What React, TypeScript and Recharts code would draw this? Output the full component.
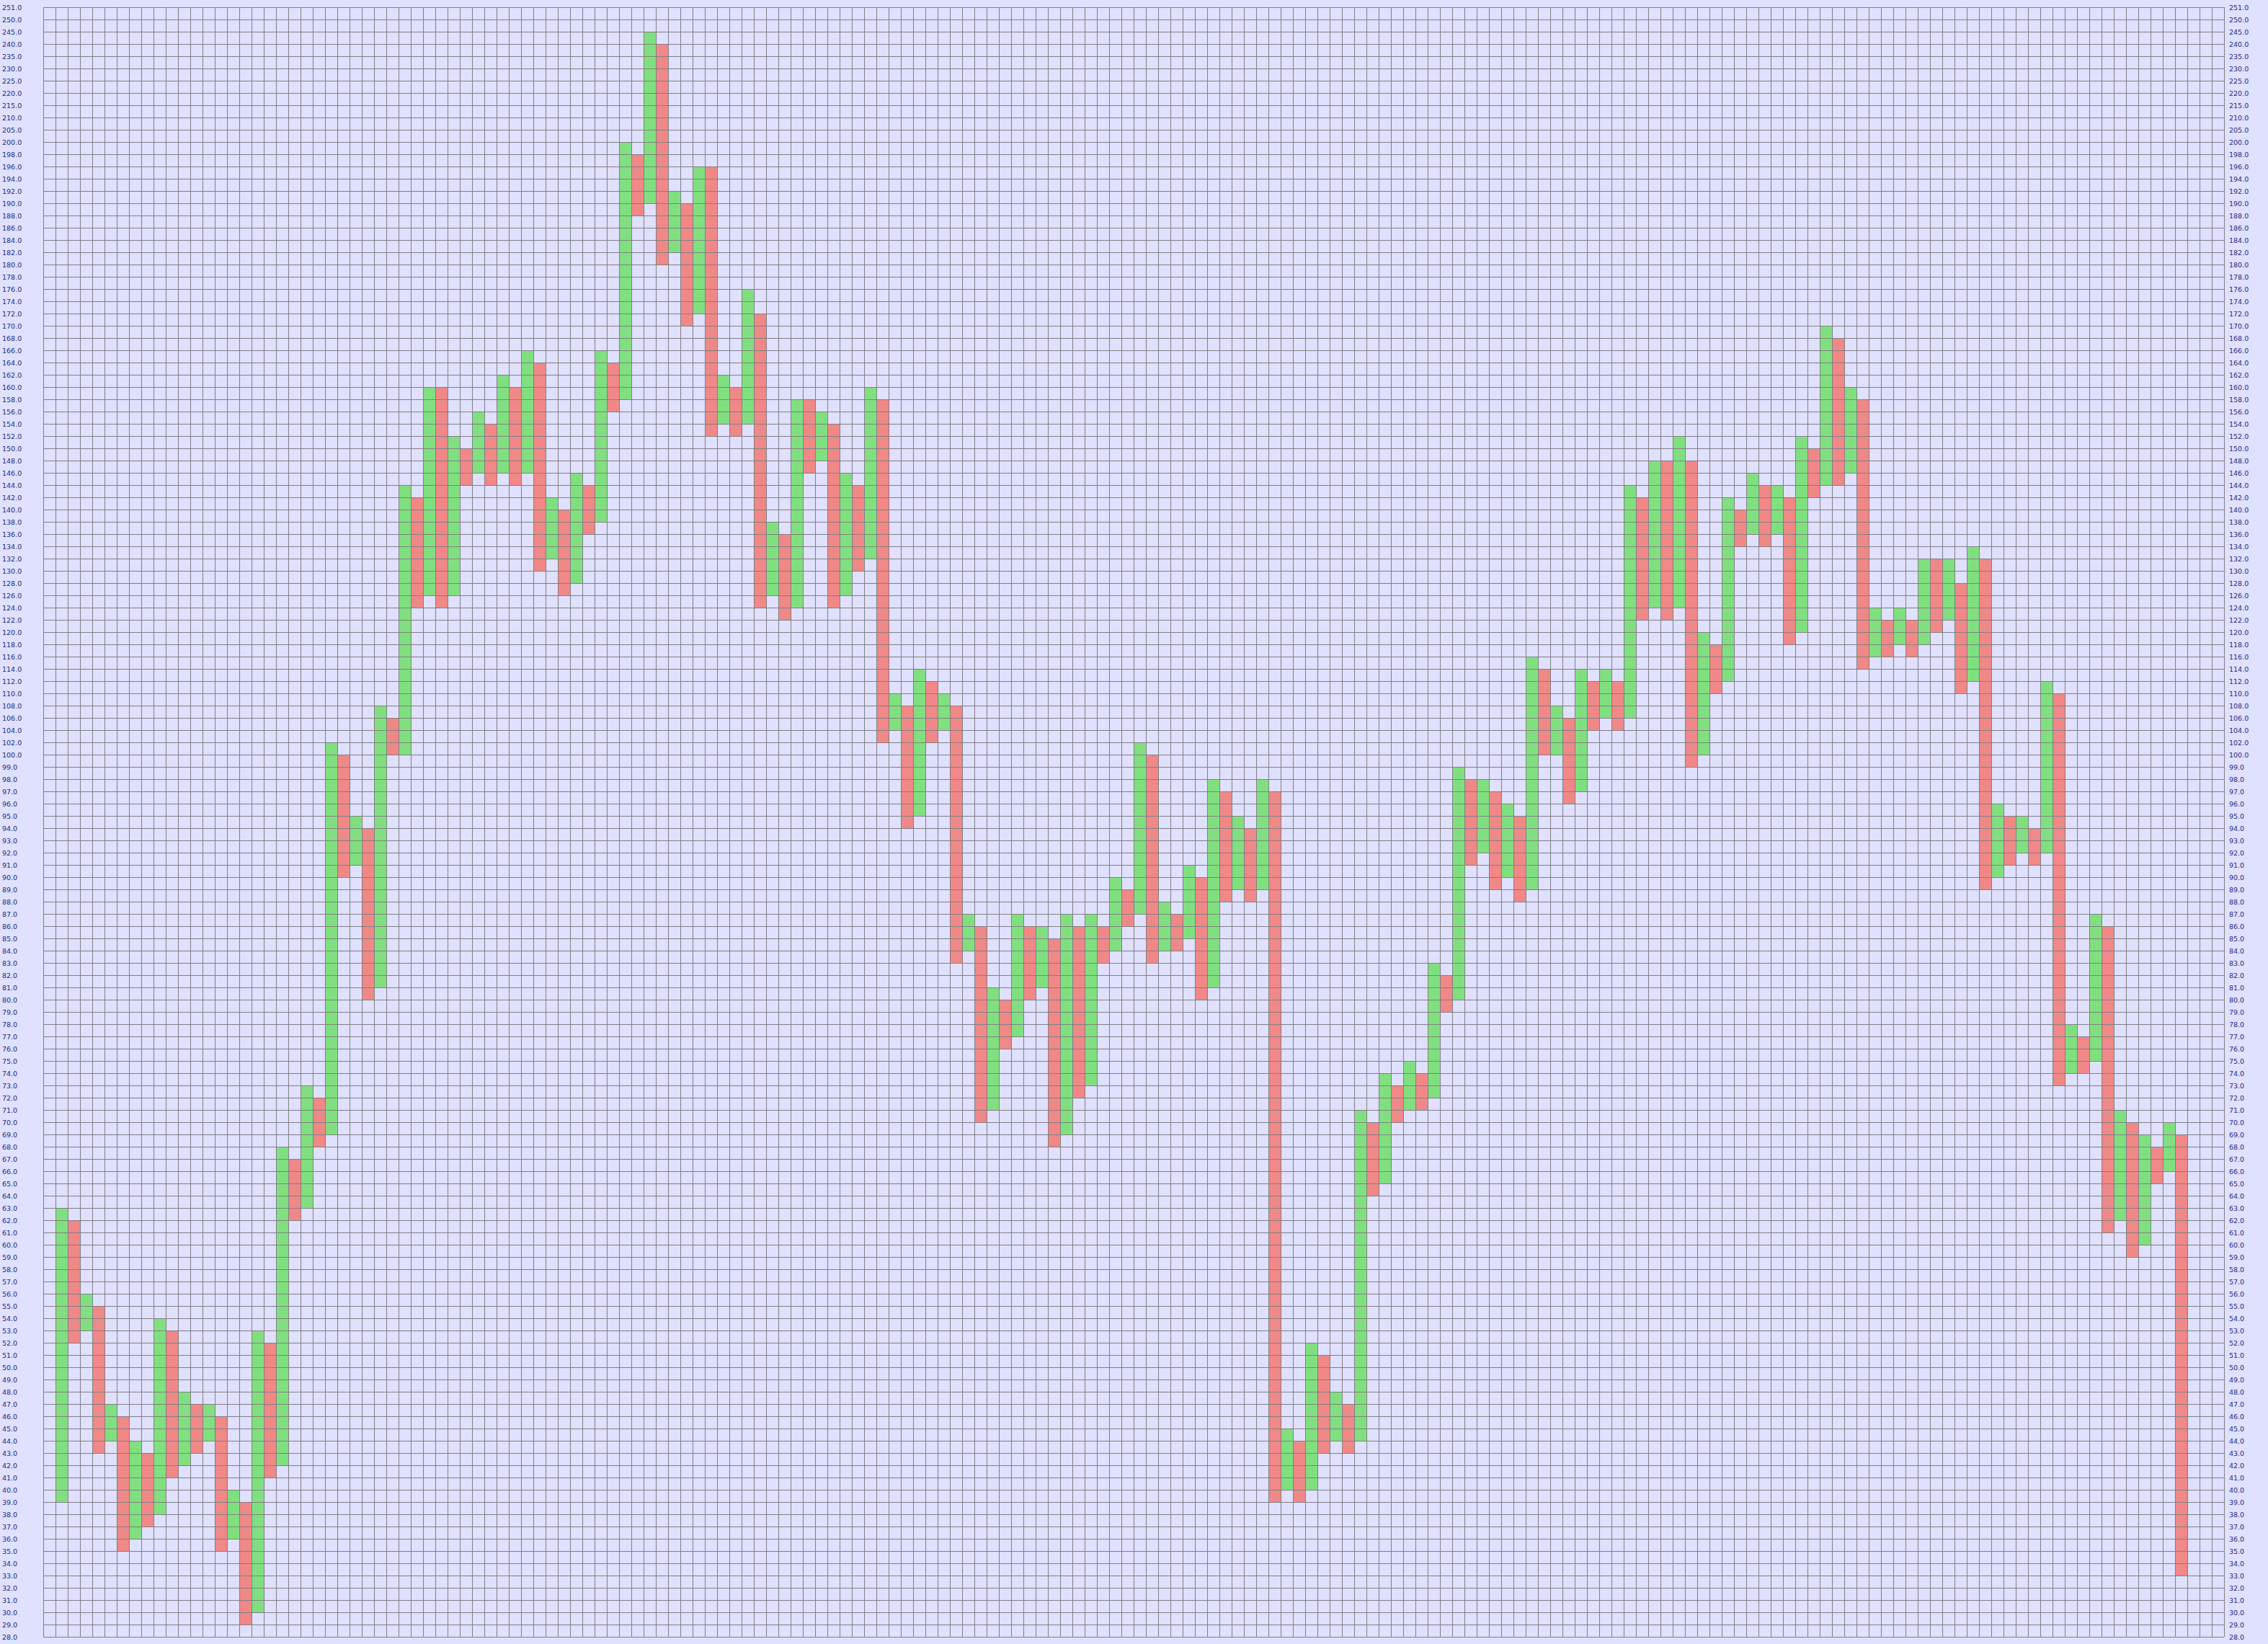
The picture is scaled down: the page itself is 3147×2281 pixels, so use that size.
import React from 'react';
import { BarChart, Bar, XAxis, YAxis, CartesianGrid, Cell } from 'recharts';

// bottom and top edge of each column (price), columns start at grid column 1
const lows = [
  39, 52, 53, 43, 44, 35, 36, 37, 38, 41,
  42, 43, 44, 35, 36, 29, 30, 41, 42, 62,
  63, 68, 69, 90, 91, 80, 81, 100, 100, 124,
  126, 124, 126, 144, 146, 144, 146, 144, 146, 130,
  132, 126, 128, 136, 138, 156, 158, 188, 190, 180,
  182, 170, 172, 152, 154, 152, 154, 124, 126, 122,
  124, 146, 148, 124, 126, 130, 132, 102, 104, 94,
  95, 102, 104, 83, 84, 70, 71, 76, 77, 80,
  81, 68, 69, 72, 73, 83, 84, 86, 87, 83,
  84, 84, 85, 80, 81, 88, 89, 88, 89, 39,
  40, 39, 40, 43, 44, 43, 44, 64, 65, 70,
  71, 71, 72, 79, 80, 91, 92, 89, 90, 88,
  89, 100, 100, 96, 97, 104, 106, 104, 106, 122,
  124, 122, 124, 99, 100, 110, 112, 134, 136, 134,
  136, 118, 120, 142, 144, 144, 146, 114, 116, 116,
  118, 116, 118, 120, 122, 110, 112, 89, 90, 91,
  92, 91, 92, 73, 74, 74, 75, 61, 62, 59,
  60, 65, 66, 33,
];
const highs = [
  63, 62, 56, 55, 47, 46, 44, 43, 54, 53,
  48, 47, 47, 46, 40, 39, 53, 52, 68, 67,
  73, 72, 102, 100, 95, 94, 108, 106, 144, 142,
  160, 160, 152, 150, 156, 154, 162, 160, 166, 164,
  142, 140, 146, 144, 166, 164, 200, 198, 245, 240,
  192, 190, 196, 196, 162, 160, 176, 172, 138, 136,
  158, 158, 156, 154, 146, 144, 160, 158, 110, 108,
  114, 112, 110, 108, 87, 86, 81, 80, 87, 86,
  86, 85, 87, 86, 87, 86, 90, 89, 102, 100,
  88, 87, 91, 90, 98, 97, 95, 94, 98, 97,
  45, 44, 52, 51, 48, 47, 71, 70, 74, 73,
  75, 74, 83, 82, 99, 98, 98, 97, 96, 95,
  116, 114, 108, 106, 114, 112, 114, 112, 144, 142,
  148, 148, 152, 148, 120, 118, 142, 140, 146, 144,
  144, 142, 152, 150, 170, 168, 160, 158, 124, 122,
  124, 122, 132, 132, 132, 128, 134, 132, 96, 95,
  95, 94, 112, 110, 78, 77, 87, 86, 71, 70,
  69, 68, 70, 69,
];
const firstColumn = 1;
const totalColumns = 178;

// price scale: box size per band
const boxBands = [
  { from: 28, to: 100, size: 1 },
  { from: 100, to: 200, size: 2 },
  { from: 200, to: 250, size: 5 },
  { from: 250, to: 251, size: 1 },
];
const levels: number[] = [];
boxBands.forEach((b) => {
  for (let v = b.from; v < b.to; v += b.size) levels.push(v);
});
levels.push(251);

const rowOf = (p: number) => levels.indexOf(p);
const rowTicks = levels.map((_, i) => i);
const colTicks = Array.from({ length: totalColumns + 1 }, (_, i) => i);

const rows = Array.from({ length: totalColumns }, (_, col) => {
  const i = col - firstColumn;
  const has = i >= 0 && i < lows.length;
  return {
    col,
    box: has ? [rowOf(lows[i]), rowOf(highs[i])] : null,
    rising: i % 2 === 0,
  };
});

const W = 3147;
const H = 2281;
const BG = '#e0e0ff';
const UP = '#80e080';
const DOWN = '#f08888';
const GRID = '#808080';
const LABEL = '#1c2c80';

const label = (v: number) => levels[v].toFixed(1);

const LeftTick = ({ x, y, payload }: any) => (
  <text x={x - 57} y={y + 4} textAnchor="start" fill={LABEL} fontSize={9.5} fontFamily="DejaVu Sans">
    {label(payload.value)}
  </text>
);

const RightTick = ({ x, y, payload }: any) => (
  <text x={x} y={y + 4} textAnchor="start" fill={LABEL} fontSize={9.5} fontFamily="DejaVu Sans">
    {label(payload.value)}
  </text>
);

const NoTick = () => <g />;

export default function App() {
  return (
    <div style={{ position: 'absolute', left: 0, top: 0, width: W, height: H, background: BG }}>
      <style>{'.recharts-cartesian-grid line{shape-rendering:crispEdges}'}</style>
      {/* columns */}
      <div style={{ position: 'absolute', left: 0, top: 0 }}>
        <BarChart width={W} height={H} data={rows} margin={{ top: 10, right: 61, bottom: 10, left: 60 }} barCategoryGap={0} barGap={0}>
          <XAxis dataKey="col" hide />
          <YAxis type="number" domain={[0, levels.length - 1]} hide allowDataOverflow />
          <Bar dataKey="box" isAnimationActive={false}>
            {rows.map((r) => (
              <Cell key={r.col} fill={r.rising ? UP : DOWN} />
            ))}
          </Bar>
        </BarChart>
      </div>
      {/* grid and price labels drawn over the columns */}
      <div style={{ position: 'absolute', left: 0, top: 0 }}>
        <BarChart width={W} height={H} data={rows} margin={{ top: 10, right: 0, bottom: 10, left: 0 }}>
          <CartesianGrid stroke={GRID} strokeWidth={1} fill="none" verticalValues={colTicks} horizontalValues={rowTicks} />
          <XAxis
            type="number"
            dataKey="col"
            domain={[0, totalColumns]}
            ticks={colTicks}
            interval={0}
            height={0}
            tick={<NoTick />}
            axisLine={false}
            tickLine={false}
            allowDataOverflow
          />
          <YAxis
            type="number"
            domain={[0, levels.length - 1]}
            ticks={rowTicks}
            interval={0}
            width={60}
            axisLine={false}
            tickLine={false}
            tickSize={0}
            tickMargin={0}
            tick={<LeftTick />}
            allowDataOverflow
          />
          <YAxis
            yAxisId="right"
            orientation="right"
            type="number"
            domain={[0, levels.length - 1]}
            ticks={rowTicks}
            interval={0}
            width={61}
            axisLine={false}
            tickLine={false}
            tickSize={0}
            tickMargin={7}
            tick={<RightTick />}
            allowDataOverflow
          />
        </BarChart>
      </div>
    </div>
  );
}
